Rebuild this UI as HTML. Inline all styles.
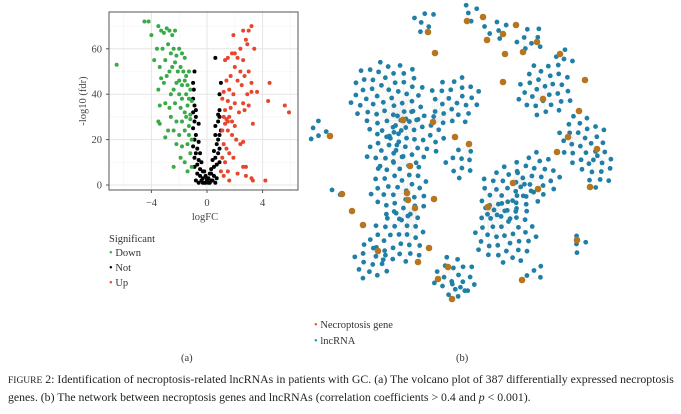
<!DOCTYPE html>
<html><head><meta charset="utf-8">
<style>
body{margin:0;background:#fff;}
#wrap{position:relative;width:681px;height:414px;overflow:hidden;font-family:"Liberation Serif",serif;color:#333;}
.t{position:absolute;white-space:nowrap;}
</style></head>
<body>
<div id="wrap">
<svg id="vol" width="681" height="414" style="position:absolute;left:0;top:0"></svg>
<div class="t" style="left:109px;top:234px;font-size:10.5px">Significant</div>
<div class="t" style="left:109px;top:248px;font-size:10.5px"><span style="color:#3aaa48">•</span> Down</div>
<div class="t" style="left:109px;top:263px;font-size:10.5px"><span style="color:#000">•</span> Not</div>
<div class="t" style="left:109px;top:278px;font-size:10.5px"><span style="color:#e8452c">•</span> Up</div>
<div class="t" style="left:314px;top:320px;font-size:10.5px"><span style="color:#e8582c">•</span> Necroptosis gene</div>
<div class="t" style="left:314px;top:336px;font-size:10.5px"><span style="color:#1aa0a8">•</span> lncRNA</div>
<div class="t" style="left:181px;top:353px;font-size:10.5px">(a)</div>
<div class="t" style="left:456px;top:353px;font-size:10.5px">(b)</div>
<div class="t" style="left:8px;top:372px;font-size:11.8px;color:#222"><span style="font-size:9.5px">FIGURE</span> 2: Identification of necroptosis-related lncRNAs in patients with GC. (a) The volcano plot of 387 differentially expressed necroptosis</div>
<div class="t" style="left:8px;top:390px;font-size:11.8px;color:#222">genes. (b) The network between necroptosis genes and lncRNAs (correlation coefficients &gt; 0.4 and <i>p</i> &lt; 0.001).</div>
</div>
<script>
const downFC=[-4.5,-4.2,-4.0,-3.5,-3.3,-3.1,-2.9,-2.7,-2.5,-2.3,-3.6,-3.2,-2.8,-2.6,-2.4,-2.2,-2.0,-1.8,-1.6,-3.8,-3.4,-3.0,-2.7,-2.5,-2.3,-2.1,-1.9,-1.7,-1.5,-1.3,-3.3,-3.1,-2.9,-2.2,-2.0,-1.8,-1.6,-1.4,-1.2,-3.5,-2.6,-2.4,-2.0,-1.8,-1.5,-1.3,-1.1,-3.4,-3.0,-2.7,-2.3,-1.9,-1.6,-1.4,-1.2,-3.5,-3.4,-2.6,-2.2,-1.8,-1.5,-1.2,-2.8,-2.4,-2.0,-1.6,-1.3,-3.0,-2.2,-1.8,-1.4,-1.2,-1.9,-1.6,-2.4,-1.4,-1.1,-6.5,-1.3,-1.1];
const downFdr=[72,72,66,70,68,67,69,68,66,68,60,60,62,58,60,57,60,58,56,55,52,55,50,52,54,50,52,50,48,50,47,45,48,45,46,44,46,44,42,42,40,42,40,38,40,38,37,35,36,34,36,34,32,35,31,28,27,30,28,28,30,29,24,24,22,24,22,21,18,17,18,14,12,10,8,6,8,53,26,20];
const notFC=[-0.8,-0.6,-0.4,-0.2,0,0.2,0.4,0.6,-0.7,-0.5,-0.3,-0.1,0.1,0.3,0.5,0.7,-0.9,-0.7,-0.5,-0.3,0.3,0.5,0.7,0.9,-0.9,-0.8,-0.6,0.6,0.8,0.9,-1.0,-0.9,-0.8,-0.7,0.7,0.8,0.9,1.0,-1.0,-0.9,-0.8,-0.6,0.6,0.8,0.9,-1.0,-0.9,-1.0,-0.8,0.9,0.8,-1.0,-0.9,-0.95,1.0,0.9,0.6,-0.4,0.4,-0.2,0.2,-0.6,0.6,-0.5,0.5,-0.1,0.1,0,-0.3,0.3];
const notFdr=[2,1,2,1,2,1,2,1,5,4,3,4,3,5,4,3,8,9,7,6,7,8,9,10,12,14,11,12,14,16,17,20,22,16,18,20,22,24,25,28,30,27,26,28,30,32,35,38,33,33,31,45,50,42,45,40,56,10,11,6,5,19,22,14,15,1,1,3,1,2];
const upFC=[3.2,3.0,2.6,1.9,2.8,2.9,3.4,2.4,2.0,1.8,1.5,2.2,2.6,1.3,2.0,2.4,2.7,3.0,1.7,1.4,2.2,3.2,2.5,1.6,1.2,1.9,2.9,3.2,3.6,4.5,4.4,1.1,1.5,2.0,2.6,3.0,1.3,1.7,2.3,2.7,1.2,1.4,1.6,1.5,1.8,1.3,2.0,5.6,5.9,1.1,1.5,1.8,2.1,2.4,2.6,1.2,1.4,1.6,1.1,1.9,1.3,2.6,2.8,1.5,2.2,1.2,2.8,3.2,3.3,4.2,1.6,1.0,3.3];
const upFdr=[70,68,68,66,64,62,60,60,58,58,56,56,55,55,52,50,48,50,48,46,46,45,44,42,41,40,40,41,41,45,37,38,37,36,36,35,33,34,32,33,30,29,30,28,28,27,26,35,32,24,24,22,20,18,19,18,16,14,12,12,10,8,8,6,5,4,4,3,2,2,2,6,27];
const xTicks=[-4,0,4];
const yTicks=[0,20,40,60];
const hubX=[403,433,403,410,407,415,448,378,488,488,513,543,568,597,330,428,577,522,452,487,523,560,467,342,469];
const hubY=[120,122,120,166,193,208,267,251,207,207,183,99,137,149,136,32,240,280,299,40,52,54,21,194,144];
const cloudX=[388,455,416,385,400,398,455,370,505,505,535,545,582,598,318,424,580,535,458,495,530,566,472,334,460];
const cloudY=[98,100,136,150,190,238,276,262,232,194,178,90,140,170,132,20,245,274,290,30,40,56,13,193,162];
const cloudN=[55,25,30,15,35,30,18,14,40,28,25,30,25,12,5,6,4,4,4,6,8,4,4,2,10];
const loneGeneX=[483,503,516,537,505,435,503,585,579,557,538,590,418,429,438,434,352,363,455,408];
const loneGeneY=[17,34,25,42,54,53,82,80,111,152,189,187,262,248,279,199,211,225,137,200];

const NS='http://www.w3.org/2000/svg';
const svg=document.getElementById('vol');
function mk(tag,attrs,parent){const e=document.createElementNS(NS,tag);for(const k in attrs)e.setAttribute(k,attrs[k]);(parent||svg).appendChild(e);return e;}
const X0=109,X1=298,Y0=12,Y1=190;
const sx=v=>207+v*13.9;
const sy=v=>185-v*2.27;
const panel=mk('g',{});


const bg=mk('rect',{x:X0,y:Y0,width:X1-X0,height:Y1-Y0,fill:'#fff'},panel);


[-6,-2,2,6].forEach(v=>{const l=mk('line',{x1:sx(v),x2:sx(v),y1:Y0,y2:Y1,stroke:'#f3f3f3','stroke-width':0.6},panel);});
[10,30,50,70].forEach(v=>{const l=mk('line',{x1:X0,x2:X1,y1:sy(v),y2:sy(v),stroke:'#f3f3f3','stroke-width':0.6},panel);});
xTicks.forEach(v=>{const l=mk('line',{x1:sx(v),x2:sx(v),y1:Y0,y2:Y1,stroke:'#e6e6e6','stroke-width':1},panel);
 const t=mk('text',{x:sx(v),y:206,'font-size':10.5,'text-anchor':'middle',fill:'#444','font-family':'Liberation Serif'},panel);t.textContent=v===0?'0':(v<0?'\u2212'+(-v):String(v));
 const tk=mk('line',{x1:sx(v),x2:sx(v),y1:Y1,y2:Y1+3,stroke:'#555'},panel);});
yTicks.forEach(v=>{const l=mk('line',{x1:X0,x2:X1,y1:sy(v),y2:sy(v),stroke:'#e6e6e6','stroke-width':1},panel);
 const t=mk('text',{x:102,y:sy(v)+3.5,'font-size':10.5,'text-anchor':'end',fill:'#444','font-family':'Liberation Serif'},panel);t.textContent=String(v);
 const tk=mk('line',{x1:X0-3,x2:X0,y1:sy(v),y2:sy(v),stroke:'#555'},panel);});
function pts(fc,fdr,col,name){fc.forEach((v,i)=>{const c=mk('circle',{cx:sx(v),cy:sy(fdr[i]),r:2,fill:col},panel);});}
pts(notFC,notFdr,'#000','point-not');
pts(downFC,downFdr,'#3aaa48','point-down');
pts(upFC,upFdr,'#e8452c','point-up');
const br=mk('rect',{x:X0,y:Y0,width:X1-X0,height:Y1-Y0,fill:'none',stroke:'#555','stroke-width':1},panel);


const xt=mk('text',{x:205,y:220,'font-size':10.5,'text-anchor':'middle',fill:'#444','font-family':'Liberation Serif'},panel);xt.textContent='logFC';


const yt=mk('text',{x:0,y:0,'font-size':10.5,'text-anchor':'middle',fill:'#444','font-family':'Liberation Serif',transform:'translate(86,101) rotate(-90)'},panel);yt.textContent='-log10 (fdr)';



const net=mk('g',{});


const edges=mk('g',{stroke:'#dddddd','stroke-width':0.4,opacity:0.7},net);
const nodes=mk('g',{},net);
const GA=2.39996;
hubX.forEach((hx,h)=>{
 for(let i=0;i<cloudN[h];i++){
  const r=5.2*Math.sqrt(i+0.5),a=i*GA+h;
  const x=cloudX[h]+r*Math.cos(a),y=cloudY[h]+r*Math.sin(a);
  const e=mk('line',{x1:hx,y1:hubY[h],x2:x,y2:y},edges);
  
  
  const c=mk('circle',{cx:x,cy:y,r:2.4,fill:'#1f7fa6'},nodes);
  
  
 }
});
hubX.forEach((hx,h)=>{const c=mk('circle',{cx:hx,cy:hubY[h],r:3.3,fill:'#b5761f'},nodes);});
loneGeneX.forEach((gx,i)=>{const c=mk('circle',{cx:gx,cy:loneGeneY[i],r:3.3,fill:'#b5761f'},nodes);});
</script>
</body></html>
